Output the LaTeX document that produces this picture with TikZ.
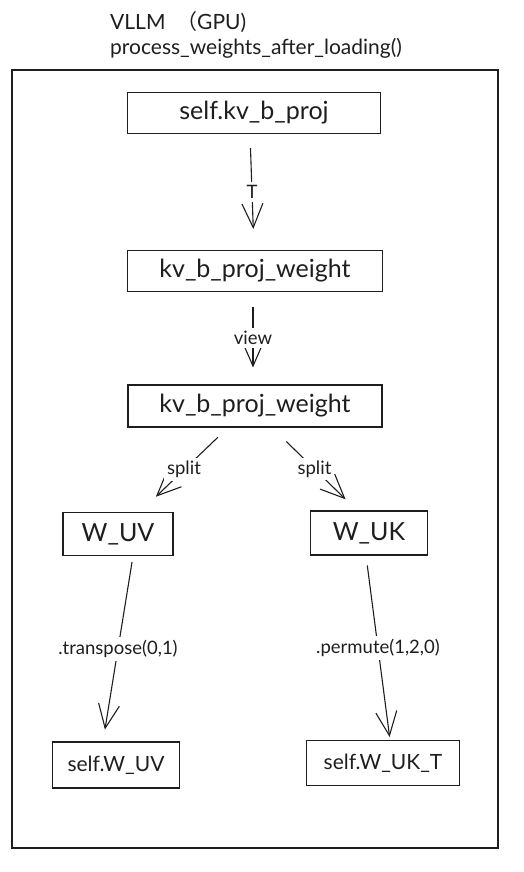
\documentclass[tikz,border=0pt]{standalone}
\usepackage{fontspec}
\setmainfont{Lato}
\newfontfamily\cjk{Noto Sans CJK SC}
\usetikzlibrary{arrows.meta,calc,positioning}
\definecolor{ink}{RGB}{30,30,30}

\tikzset{
  box/.style={draw=ink,line width=1.1pt,inner sep=0pt,font=\fontsize{25}{28}\selectfont},
  smallbox/.style={box,font=\fontsize{21}{24}\selectfont},
  link/.style={draw=ink,line width=1.1pt,-{Straight Barb[length=24pt,width=21pt,line width=1.1pt]}},
  lab/.style={fill=white,inner sep=3pt,text=ink,font=\fontsize{18.5}{21}\selectfont},
}

\begin{document}
\begin{tikzpicture}[x=1pt,y=-1pt,text=ink]
  \useasboundingbox (0,0) rectangle (524,872);
  % heading above the frame
  \node[anchor=base west,font=\fontsize{21}{24}\selectfont,inner sep=0pt] (head) at (110,30) {VLLM\ \ {\cjk （}GPU)};
  \node[anchor=base west,font=\fontsize{21}{24}\selectfont,inner sep=0pt] (fn) at (110,55) {process\_weights\_after\_loading()};
  % outer frame
  \draw[ink,line width=1.1pt] (12,70) rectangle (498,848);
  % boxes
  \node[box,minimum width=253pt,minimum height=41pt] (proj) at (254,113) {self.kv\_b\_proj};
  \node[box,minimum width=255pt,minimum height=41pt] (wa) at (255,271) {kv\_b\_proj\_weight};
  \node[box,minimum width=254pt,minimum height=42pt] (wb) at (255,406) {kv\_b\_proj\_weight};
  \node[box,minimum width=110pt,minimum height=43pt] (uv) at (118,534) {W\_UV};
  \node[box,minimum width=117pt,minimum height=44pt] (uk) at (369,533) {W\_UK};
  \node[smallbox,minimum width=127pt,minimum height=46pt] (suv) at (116,765) {self.W\_UV};
  \node[smallbox,minimum width=153pt,minimum height=45pt] (sukt) at (383,763) {self.W\_UK\_T};
  % connectors
  \draw[link,shorten <=14pt,shorten >=21pt] ([xshift=-4pt]proj.south) -- ([xshift=-1pt]wa.north) node[lab,midway] {T};
  \draw[link,shorten <=15pt,shorten >=17pt] ([xshift=-2pt]wa.south) -- ([xshift=-2pt]wb.north) node[lab,midway] {view};
  \draw[link,shorten <=14pt,shorten >=22pt] ([xshift=-27pt]wb.south) -- ([xshift=22pt]uv.north) node[lab,midway] {split};
  \draw[link,shorten <=20pt,shorten >=16pt] ([xshift=17pt]wb.south) -- ([xshift=-12pt]uk.north) node[lab,midway] {split};
  \draw[link,shorten <=6pt,shorten >=12pt] ([xshift=15pt]uv.south) -- ([xshift=-13pt]suv.north) node[lab,midway] {.transpose(0,1)};
  \draw[link,shorten <=10pt,shorten >=3pt] ([xshift=-3pt]uk.south) -- ([xshift=7pt]sukt.north) node[lab,midway] {.permute(1,2,0)};
\end{tikzpicture}
\end{document}
